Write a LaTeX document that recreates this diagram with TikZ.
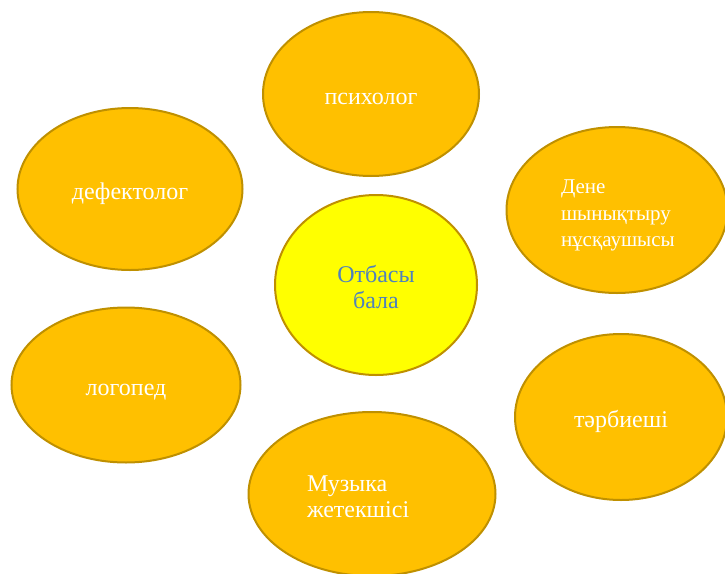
\documentclass[tikz,border=0pt]{standalone}
\usepackage{fontspec}
\setmainfont{Liberation Serif}
\usepackage{tikz}
\usetikzlibrary{shapes.geometric, positioning}

\definecolor{roleorange}{HTML}{FFC000}
\definecolor{roleedge}{HTML}{BF9000}
\definecolor{familyyellow}{HTML}{FFFF00}
\definecolor{familyblue}{HTML}{4F81BD}
\lefthyphenmin=64

\begin{document}
\begin{tikzpicture}[x=1pt,y=-1pt,
  role node/.style={ellipse,draw=roleedge,fill=roleorange,line width=2pt,inner sep=0pt,
    text=white,font=\fontsize{24}{26}\selectfont,text height=20pt,text depth=0pt},
  two lines/.style={align=left,text depth=26pt},
  three lines/.style={align=left,text depth=52.5pt},
  family node/.style={role node,fill=familyyellow,text=familyblue,two lines,align=center,text width=110}]

        \useasboundingbox (0,0) rectangle (725,573);

        \node[family node, minimum width=202, minimum height=180] (family) at (376,285) {Отбасы\\бала};

        \node[role node, minimum width=216, minimum height=164] (psy)   at (371,94)  {психолог};
        \node[role node, minimum width=225, minimum height=162] (defect) at (130,189) {дефектолог};
        \node[role node, three lines, minimum width=221, minimum height=166, text width=112,
              font=\fontsize{21}{26.5}\selectfont] (sport) at (617,210) {Дене\\шынықтыру\\нұсқаушысы};
        \node[role node, minimum width=229, minimum height=155] (speech) at (126,385) {логопед};
        \node[role node, minimum width=212, minimum height=166] (tutor) at (621,417) {тәрбиеші};
        \node[role node, two lines, minimum width=247, minimum height=164, text width=130] (music) at (372,494) {Музыка\\жетекшісі};
\end{tikzpicture}
\end{document}
